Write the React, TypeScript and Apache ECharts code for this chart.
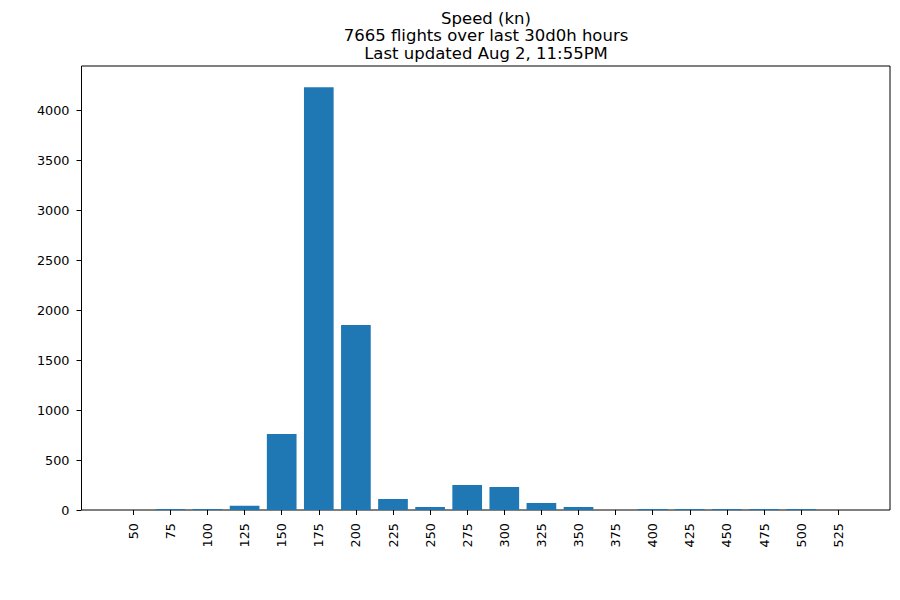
import React, { useEffect, useRef } from "react";
import * as echarts from "echarts";

const categories = ["50", "75", "100", "125", "150", "175", "200", "225", "250", "275", "300", "325", "350", "375", "400", "425", "450", "475", "500", "525"];
const counts = [0, 10, 10, 43, 760, 4230, 1850, 110, 30, 250, 230, 70, 30, 0, 10, 10, 10, 10, 10, 0];
const yTicks = [0, 500, 1000, 1500, 2000, 2500, 3000, 3500, 4000];
const titleLines = ["Speed (kn)", "7665 flights over last 30d0h hours", "Last updated Aug 2, 11:55PM"];

const FONT = "DejaVu Sans";

export default function App() {
  const ref = useRef<HTMLDivElement>(null);
  useEffect(() => {
    if (!ref.current) return;
    const chart = echarts.init(ref.current, null, { renderer: "svg" });
    const yMax = Math.max(...counts) * 1.05;
    const frameLeft = 81.5;
    const barLeft = 114.75;
    chart.setOption({
      animation: false,
      backgroundColor: "#ffffff",
      textStyle: { fontFamily: FONT },
      graphic: titleLines.map((t, i) => ({
        type: "text",
        x: 486,
        y: 9.5 + i * 17.5,
        style: { text: t, fontSize: 16.5, fontFamily: FONT, fill: "#000", textAlign: "center", textVerticalAlign: "top" },
      })),
      grid: [
        { left: frameLeft, right: 10, top: 66, bottom: 90, show: true, borderColor: "#000", borderWidth: 1, backgroundColor: "transparent" },
        { left: barLeft, right: 900 - (barLeft + 742), top: 66, bottom: 90 },
      ],
      xAxis: [
        { gridIndex: 0, type: "value", show: false, min: 0, max: 1 },
        {
          gridIndex: 1,
          type: "category",
          data: categories,
          boundaryGap: true,
          axisLine: { show: false },
          axisTick: { show: true, alignWithLabel: true, length: 5, lineStyle: { color: "#000" } },
          axisLabel: { rotate: 90, margin: 13, fontSize: 12.8, color: "#000", fontFamily: FONT, interval: 0 },
          splitLine: { show: false },
        },
      ],
      yAxis: [
        { gridIndex: 0, type: "value", show: false, min: 0, max: 1 },
        {
          gridIndex: 1,
          type: "value",
          min: 0,
          max: yMax,
          interval: 500,
          offset: barLeft - frameLeft,
          axisLine: { show: false },
          axisTick: { show: true, length: 5, lineStyle: { color: "#000" } },
          axisLabel: {
            margin: 12,
            fontSize: 12.8,
            color: "#000",
            fontFamily: FONT,
            showMaxLabel: false,
            formatter: (v: number) => (yTicks.includes(v) ? String(v) : ""),
          },
          splitLine: { show: false },
        },
      ],
      series: [
        {
          type: "bar",
          xAxisIndex: 1,
          yAxisIndex: 1,
          data: counts,
          barWidth: "80%",
          itemStyle: { color: "#1f77b4" },
        },
      ],
    });
    return () => chart.dispose();
  }, []);
  return <div ref={ref} style={{ position: "absolute", left: 0, top: 0, width: 900, height: 600 }} />;
}
